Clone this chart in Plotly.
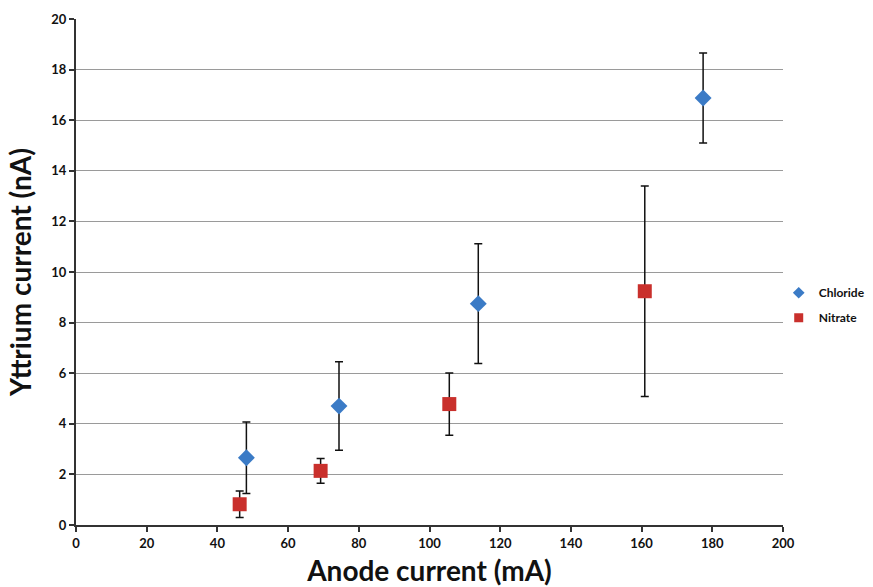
import plotly.graph_objects as go

# Chloride measurements: anode current (mA), yttrium current (nA), error (nA)
chloride_x = [48.2, 74.4, 113.8, 177.4]
chloride_y = [2.66, 4.70, 8.75, 16.88]
chloride_err = [1.41, 1.75, 2.37, 1.78]

# Nitrate measurements
nitrate_x = [46.3, 69.2, 105.6, 160.9]
nitrate_y = [0.82, 2.14, 4.78, 9.24]
nitrate_err = [0.52, 0.49, 1.23, 4.16]

series_names = ["Chloride", "Nitrate"]

x_ticks = list(range(0, 201, 20))
y_ticks = list(range(0, 21, 2))

FONT = "Lato"
BLUE = "#3b7bc6"
RED = "#c9302c"

fig = go.Figure()
fig.add_trace(go.Scatter(
    x=chloride_x, y=chloride_y, mode="markers", name=series_names[0],
    legendgroup="cl", showlegend=False,
    marker=dict(symbol="diamond", size=13, color=BLUE),
    error_y=dict(type="data", array=chloride_err, visible=True,
                 color="#111111", thickness=1.5, width=4),
))
fig.add_trace(go.Scatter(
    x=nitrate_x, y=nitrate_y, mode="markers", name=series_names[1],
    legendgroup="no", showlegend=False,
    marker=dict(symbol="square", size=14, color=RED),
    error_y=dict(type="data", array=nitrate_err, visible=True,
                 color="#111111", thickness=1.5, width=4),
))
# smaller symbols for the legend keys
fig.add_trace(go.Scatter(
    x=[None], y=[None], mode="markers", name=series_names[0],
    legendgroup="cl", marker=dict(symbol="diamond", size=9, color=BLUE),
))
fig.add_trace(go.Scatter(
    x=[None], y=[None], mode="markers", name=series_names[1],
    legendgroup="no", marker=dict(symbol="square", size=9, color=RED),
))

fig.update_layout(
    width=873, height=587,
    margin=dict(l=76, r=90, t=19, b=62, autoexpand=False),
    plot_bgcolor="white", paper_bgcolor="white",
    font=dict(family=FONT, color="#111111"),
    showlegend=True,
    legend=dict(xref="container", yref="container", x=0.892, y=0.48,
                xanchor="left", yanchor="middle",
                font=dict(family=FONT, size=12, color="#111111", weight="bold"),
                itemwidth=30, tracegroupgap=6, bgcolor="rgba(0,0,0,0)"),
    xaxis=dict(
        range=[0, 200], tickvals=x_ticks, showgrid=False, zeroline=False,
        showline=True, linecolor="#333333", linewidth=2,
        ticks="outside", ticklen=5, tickcolor="#333333", tickwidth=1.5,
        tickfont=dict(family=FONT, size=13, weight="bold"),
        title=dict(text="Anode current (mA)", standoff=16,
                   font=dict(family=FONT, size=28, weight="bold")),
        automargin=False,
    ),
    yaxis=dict(
        range=[0, 20], tickvals=y_ticks, showgrid=True, gridcolor="#9a9a9a",
        gridwidth=1, zeroline=False,
        showline=True, linecolor="#333333", linewidth=2,
        ticks="outside", ticklen=5, tickcolor="#333333", tickwidth=1.5,
        tickfont=dict(family=FONT, size=13, weight="bold"),
        title=dict(text="Yttrium current (nA)", standoff=12,
                   font=dict(family=FONT, size=28, weight="bold")),
        automargin=False,
    ),
)

fig.write_html("out.html")
